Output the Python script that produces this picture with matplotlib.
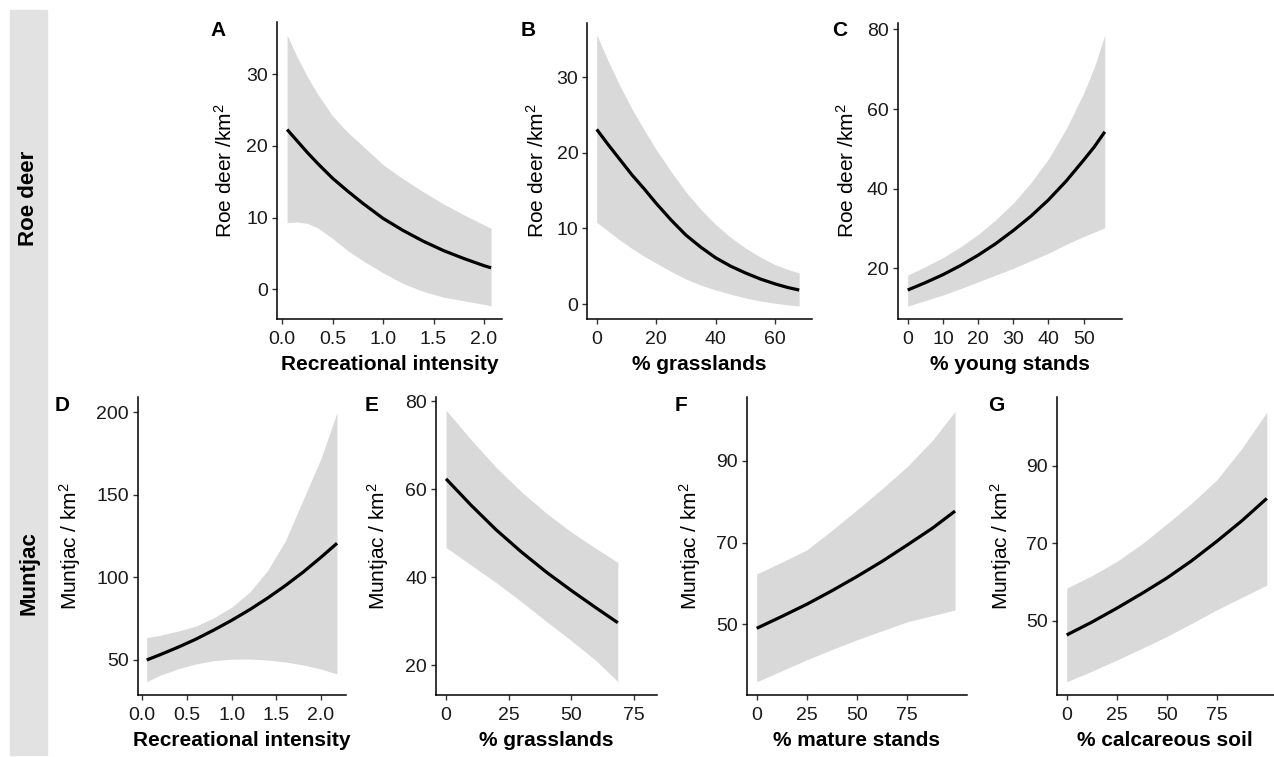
import matplotlib
matplotlib.use("Agg")
import matplotlib.pyplot as plt
from matplotlib.patches import Rectangle

plt.rcParams['font.family'] = ['Liberation Sans', 'DejaVu Sans']
plt.rcParams['mathtext.fontset'] = 'custom'
plt.rcParams['mathtext.rm'] = 'Liberation Sans'
plt.rcParams['mathtext.it'] = 'Liberation Sans'

# --- datos ---
# A: Roe deer ~ recreational intensity
a_x = [0.05, 0.15, 0.25, 0.35, 0.5, 0.65, 0.8, 1.0, 1.2, 1.4, 1.6, 1.8, 2.0, 2.07]
a_fit = [22.3, 20.7, 19.1, 17.6, 15.5, 13.7, 12.0, 9.9, 8.2, 6.7, 5.4, 4.3, 3.3, 3.0]
a_lo = [9.3, 9.4, 9.2, 8.6, 7.1, 5.4, 4.0, 2.3, 0.8, -0.3, -1.1, -1.6, -2.1, -2.3]
a_hi = [35.5, 32.4, 29.7, 27.3, 24.2, 21.9, 20.0, 17.4, 15.4, 13.6, 11.9, 10.4, 9.0, 8.5]

# B: Roe deer ~ % grasslands
b_x = [0, 4, 8, 12, 16, 20, 25, 30, 35, 40, 45, 50, 55, 60, 64, 68]
b_fit = [23.1, 21.0, 19.0, 17.0, 15.2, 13.3, 11.1, 9.1, 7.5, 6.1, 5.0, 4.1, 3.3, 2.65, 2.2, 1.85]
b_lo = [10.8, 9.6, 8.4, 7.3, 6.3, 5.4, 4.3, 3.3, 2.5, 1.85, 1.3, 0.8, 0.4, 0.1, -0.1, -0.26]
b_hi = [35.6, 32.0, 28.7, 25.7, 23.0, 20.4, 17.5, 14.8, 12.5, 10.5, 8.8, 7.4, 6.2, 5.2, 4.6, 4.1]

# C: Roe deer ~ % young stands
c_x = [0, 5, 10, 15, 20, 25, 30, 35, 40, 45, 50, 53, 56]
c_fit = [14.55, 16.4, 18.4, 20.7, 23.3, 26.2, 29.5, 33.1, 37.2, 41.9, 47.2, 50.5, 54.3]
c_lo = [10.5, 11.9, 13.3, 14.9, 16.6, 18.3, 20.0, 21.9, 23.8, 26.0, 28.0, 29.1, 30.2]
c_hi = [18.3, 20.4, 22.7, 25.4, 28.5, 32.2, 36.4, 41.5, 47.5, 55.0, 64.0, 70.5, 78.6]

# D: Muntjac ~ recreational intensity
d_x = [0.05, 0.2, 0.4, 0.6, 0.8, 1.0, 1.2, 1.4, 1.6, 1.8, 2.0, 2.18]
d_fit = [50.0, 53.2, 57.7, 62.6, 68.1, 74.0, 80.4, 87.4, 95.0, 103.2, 112.2, 120.7]
d_lo = [36.9, 40.8, 44.6, 47.6, 49.6, 50.5, 50.6, 50.0, 48.8, 47.0, 44.5, 41.5]
d_hi = [63.5, 65.0, 67.5, 70.5, 75.5, 82.0, 91.0, 104.0, 122.0, 147.0, 172.0, 200.0]

# E: Muntjac ~ % grasslands
e_x = [0, 10, 20, 30, 40, 50, 60, 68.5]
e_fit = [62.4, 56.4, 50.8, 45.8, 41.2, 37.0, 33.0, 29.7]
e_lo = [46.8, 42.8, 38.8, 34.5, 30.0, 25.6, 21.0, 16.3]
e_hi = [78.0, 71.3, 65.0, 59.5, 54.6, 50.3, 46.5, 43.4]

# F: Muntjac ~ % mature stands
f_x = [0, 12.5, 25, 37.5, 50, 62.5, 75, 87.5, 98.8]
f_fit = [49.0, 51.9, 54.9, 58.2, 61.7, 65.4, 69.4, 73.5, 77.7]
f_lo = [35.9, 38.6, 41.3, 43.8, 46.2, 48.4, 50.6, 52.1, 53.5]
f_hi = [62.3, 65.2, 68.2, 73.0, 78.0, 83.2, 88.6, 95.0, 102.1]

# G: Muntjac ~ % calcareous soil
g_x = [0, 12.5, 25, 37.5, 50, 62.5, 75, 87.5, 100]
g_fit = [46.3, 49.6, 53.2, 57.0, 61.0, 65.5, 70.5, 75.8, 81.6]
g_lo = [34.2, 36.9, 39.8, 42.8, 45.9, 49.3, 52.8, 56.0, 59.2]
g_hi = [58.4, 61.6, 65.3, 69.8, 75.0, 80.4, 86.4, 94.5, 103.9]

W, H = 1274, 757
fig = plt.figure(figsize=(W / 100, H / 100), dpi=100)

# franja gris lateral
fig.patches.append(Rectangle((10 / W, 1 - 755 / H), 37 / W, 745 / H,
                             transform=fig.transFigure, color='#e2e2e2', zorder=0))
fig.text(29 / W, 1 - 198 / H, 'Roe deer', rotation=90, ha='center', va='center',
         fontsize=16, fontweight='bold')
fig.text(29 / W, 1 - 573 / H, 'Muntjac', rotation=90, ha='center', va='center',
         fontsize=16, fontweight='bold')

roe = 'Roe deer /km$^2$'
mun = 'Muntjac / km$^2$'

paneles = [
    # letra, x, fit, lo, hi, px(left,right,top,bottom), xlim, ylim, xticks, xticklabels, yticks, xlabel, ylabel, letra_x, ylab_x
    ('A', a_x, a_fit, a_lo, a_hi, (277, 502, 22, 319), (-0.05, 2.178), (-4.14, 37.3),
     [0, 0.5, 1, 1.5, 2], ['0.0', '0.5', '1.0', '1.5', '2.0'], [0, 10, 20, 30],
     'Recreational intensity', roe, 210, 236),
    ('B', b_x, b_fit, b_lo, b_hi, (587.3, 811.7, 22.7, 319.3), (-3.16, 72.2), (-2.02, 37.2),
     [0, 20, 40, 60], None, [0, 10, 20, 30], '% grasslands', roe, 521, 548),
    ('C', c_x, c_fit, c_lo, c_hi, (897.7, 1121.7, 22.7, 319.3), (-2.84, 60.8), (7.2, 81.7),
     [0, 10, 20, 30, 40, 50], None, [20, 40, 60, 80], '% young stands', roe, 832, 858),
    ('D', d_x, d_fit, d_lo, d_hi, (137.7, 345.7, 396.7, 695.3), (-0.051, 2.277), (28.6, 209.5),
     [0, 0.5, 1, 1.5, 2], ['0.0', '0.5', '1.0', '1.5', '2.0'], [50, 100, 150, 200],
     'Recreational intensity', mun, 55, 83),
    ('E', e_x, e_fit, e_lo, e_hi, (436, 656.7, 397, 695.3), (-4.0, 84.0), (13.2, 81.0),
     [0, 25, 50, 75], None, [20, 40, 60, 80], '% grasslands', mun, 365, 391),
    ('F', f_x, f_fit, f_lo, f_hi, (746.7, 966.7, 396.7, 695.3), (-4.98, 104.6), (32.6, 105.7),
     [0, 25, 50, 75], None, [50, 70, 90], '% mature stands', mun, 675, 703),
    ('G', g_x, g_fit, g_lo, g_hi, (1056.7, 1274, 396.7, 695.3), (-5.0, 103.6), (30.7, 107.9),
     [0, 25, 50, 75], None, [50, 70, 90], '% calcareous soil', mun, 988, 1014),
]

for (letra, x, fit, lo, hi, px, xl, yl, xt, xtl, yt, xlab, ylab, lx, ylx) in paneles:
    l, r, t, b = px
    ax = fig.add_axes([l / W, 1 - b / H, (r - l) / W, (b - t) / H])
    ax.fill_between(x, lo, hi, color='#d9d9d9', linewidth=0)
    ax.plot(x, fit, color='black', linewidth=2.3, solid_capstyle='butt')
    ax.set_xlim(*xl)
    ax.set_ylim(*yl)
    ax.set_xticks(xt)
    if xtl:
        ax.set_xticklabels(xtl)
    ax.set_yticks(yt)
    for s in ['top', 'right']:
        ax.spines[s].set_visible(False)
    for s in ['left', 'bottom']:
        ax.spines[s].set_linewidth(1.1)
    ax.tick_params(length=3.5, width=1.0, color='#333333', labelsize=14, pad=3,
                   labelcolor='#1a1a1a')
    ax.tick_params(axis='x', pad=5)
    ax.set_xlabel(xlab, fontsize=15, fontweight='bold', labelpad=5)
    ax.set_ylabel(ylab, fontsize=15)
    ax.yaxis.set_label_coords((ylx - l) / (r - l), 0.5)
    fig.text(lx / W, 1 - 21 / H if t < 100 else 1 - 396 / H, letra, fontsize=15,
             fontweight='bold', ha='left', va='top')

fig.savefig('out.png', dpi=100)
